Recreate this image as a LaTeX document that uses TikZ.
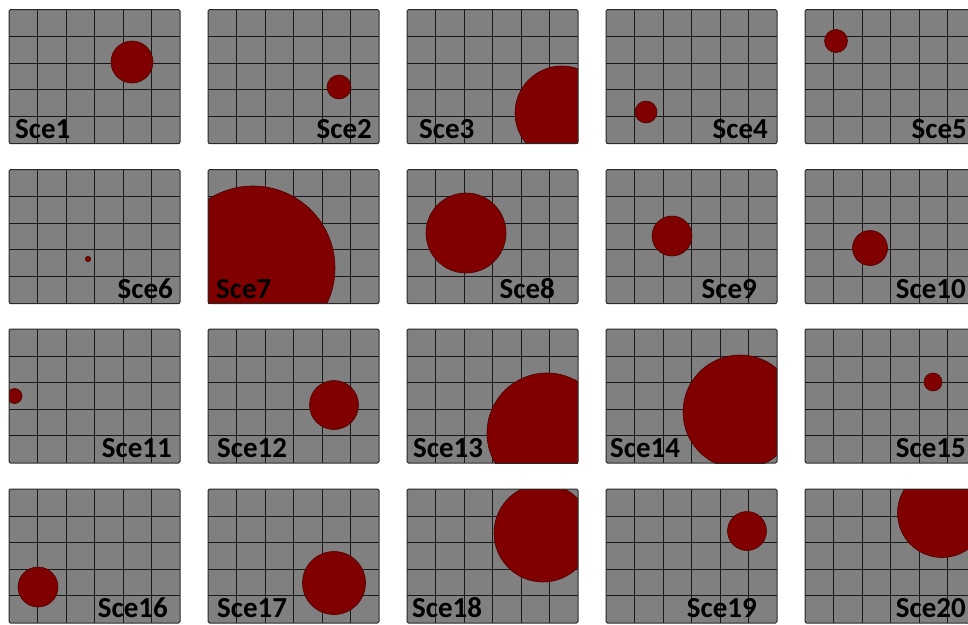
\documentclass[tikz,border=0pt]{standalone}
\usepackage{fontspec}
\setmainfont{Carlito}
\definecolor{panelgray}{RGB}{128,128,128}
\definecolor{blobred}{RGB}{128,0,0}
\definecolor{frameline}{RGB}{40,40,40}
\begin{document}
\begin{tikzpicture}[x=1pt,y=-1pt,
  gridline/.style={black!90, line width=1.4pt},
  panelframe/.style={draw=frameline, line width=1pt, rounded corners=1.5pt},
  blob/.style={fill=blobred, draw=blobred!60!black, line width=0.6pt},
  scelabel/.style={font=\fontsize{29}{30}\selectfont\bfseries, inner sep=0pt, text=black}]
\useasboundingbox (0,0) rectangle (968,624);
\clip (0,0) rectangle (968,624);
\foreach \px/\py/\cx/\cy/\r/\lx/\anc/\n in {
   9/9.5/132/62/21/15/base west/1,
   208/9.5/339/87/12/372/base east/2,
   407/9.5/562/113/47/419/base west/3,
   606/9.5/646/112/11/768/base east/4,
   805/9.5/836/41/11.5/967/base east/5,
   9/169.5/88/259/2.7/173/base east/6,
   208/169.5/253/268/82/216/base west/7,
   407/169.5/466/233/40/555/base east/8,
   606/169.5/672/236/20/757/base east/9,
   805/169.5/870/248/17.5/966/base east/10,
   9/329/14.5/396/7.5/172/base east/11,
   208/329/334/405/24.5/217/base west/12,
   407/329/547/433/60/413/base west/13,
   606/329/740/412/57/610/base west/14,
   805/329/933/382/9/966/base east/15,
   9/489/38/587/20/168/base east/16,
   208/489/334/583/31.5/217/base west/17,
   407/489/543/533/49/412/base west/18,
   606/489/747/531/19.5/757/base east/19,
   805/489/942/513/44.5/966/base east/20}{
  \begin{scope}
    \clip (\px,\py) rectangle ++(171,134);
    \fill[panelgray] (\px,\py) rectangle ++(171,134);
    \foreach \k in {1,...,5} \draw[gridline] ({round(\px+\k*28.4)+0.5},\py) -- ++(0,134);
    \foreach \k in {1,...,4} \draw[gridline] (\px,{round(\py+\k*26.6)+0.5}) -- ++(171,0);
    \draw[blob] (\cx,\cy) circle[radius=\r pt];
  \end{scope}
  \draw[panelframe] (\px,\py) rectangle ++(171,134);
  \node[scelabel, anchor=\anc] (lab\n) at (\lx,{\py+128.5}) {Sce\n};
}
\end{tikzpicture}
\end{document}
